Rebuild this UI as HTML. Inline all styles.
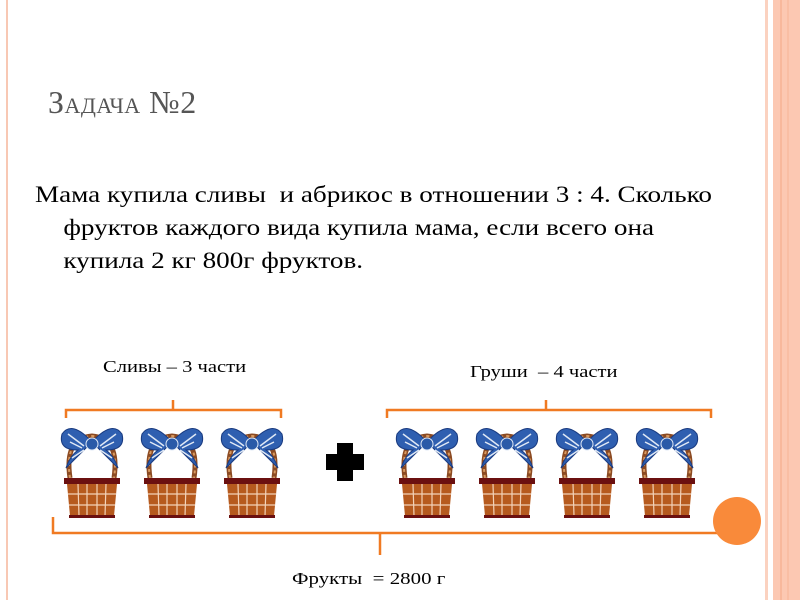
<!DOCTYPE html>
<html><head><meta charset="utf-8"><style>
body{margin:0;width:800px;height:600px;overflow:hidden;background:#fff;font-family:"Liberation Serif",serif}
.t{position:absolute;white-space:nowrap;transform-origin:0 0}
</style></head><body>
<svg width="800" height="600" style="position:absolute;left:0;top:0">
<defs>
<g id="b">
<path d="M-22 50 Q-28 10 0 8 Q28 10 22 50" fill="none" stroke="#8b4a22" stroke-width="5"/>
<path d="M-22 50 Q-28 10 0 8 Q28 10 22 50" fill="none" stroke="#d99a60" stroke-width="2" stroke-dasharray="3 3"/>
<rect x="-28" y="50" width="56" height="6" fill="#6b1010"/>
<path d="M-25 56 L25 56 L22 88 L-22 88 Z" fill="#b65a1e"/>
<g stroke="#f3d2b8" stroke-width="1.2">
<line x1="-24" y1="66" x2="24" y2="66"/><line x1="-23" y1="77" x2="23" y2="77"/>
<line x1="-14" y1="56" x2="-13" y2="88"/><line x1="-5" y1="56" x2="-5" y2="88"/><line x1="5" y1="56" x2="5" y2="88"/><line x1="14" y1="56" x2="13" y2="88"/>
</g>
<rect x="-23" y="87" width="46" height="3" fill="#6b1010"/>
<path d="M0 14 Q-20 -8 -30 6 Q-34 22 -14 22 Q-22 28 -26 40 L-8 22 Z" fill="#2f5fb0" stroke="#1a3b80" stroke-width="1"/>
<path d="M0 14 Q20 -8 30 6 Q34 22 14 22 Q22 28 26 40 L8 22 Z" fill="#2f5fb0" stroke="#1a3b80" stroke-width="1"/>
<path d="M-24 6 L-8 18 M-22 14 L-10 20 M24 6 L8 18 M22 14 L10 20 M-20 30 L-8 22 M20 30 L8 22" stroke="#dfe8f5" stroke-width="1.5"/>
<circle cx="0" cy="16" r="6" fill="#2a5aa8" stroke="#dfe8f5" stroke-width="1"/>
</g>
</defs>
<line x1="7" y1="0" x2="7" y2="600" stroke="#f8c8b4" stroke-width="2"/>
<rect x="765" y="0" width="3" height="600" fill="#fbd2c0"/>
<rect x="773" y="0" width="27" height="600" fill="#fcc8b2"/>
<rect x="780" y="0" width="2" height="600" fill="#f8b89c"/>
<rect x="787" y="0" width="2" height="600" fill="#f9bea4"/>
<g fill="none" stroke="#f07a22" stroke-width="2.5">
<path d="M66 418 V410 H281 V418 M173 410 V400"/>
<path d="M387 418 V410 H711 V418 M546 410 V400"/>
<path d="M53 517 V533 H733 V518 M380 533 V555"/>
</g>
<circle cx="737" cy="521" r="24" fill="#f98a3a"/>
<path d="M337 443 h16 v11 h11 v16 h-11 v11 h-16 v-11 h-11 v-16 h11 z" fill="#000"/>
<use href="#b" x="92" y="428"/><use href="#b" x="172" y="428"/><use href="#b" x="252" y="428"/>
<use href="#b" x="427" y="428"/><use href="#b" x="507" y="428"/><use href="#b" x="587" y="428"/><use href="#b" x="667" y="428"/>
</svg>
<div class="t" style="left:48px;top:84px;font-size:32px;color:#555;font-variant:small-caps;letter-spacing:0.5px">Задача №2</div>
<div class="t" style="left:35px;top:178px;font-size:23px;line-height:33px;transform:scaleX(1.18)">Мама купила сливы&nbsp; и абрикос в отношении 3 : 4. Сколько<br><span style="padding-left:24px">фруктов каждого вида купила мама, если всего она</span><br><span style="padding-left:24px">купила 2 кг 800г фруктов.</span></div>
<div class="t" style="left:103px;top:357px;font-size:17px;transform:scaleX(1.21)">Сливы – 3 части</div>
<div class="t" style="left:470px;top:362px;font-size:17px;transform:scaleX(1.21)">Груши&nbsp; – 4 части</div>
<div class="t" style="left:292px;top:569px;font-size:17px;transform:scaleX(1.23)">Фрукты&nbsp; = 2800 г</div>
</body></html>
